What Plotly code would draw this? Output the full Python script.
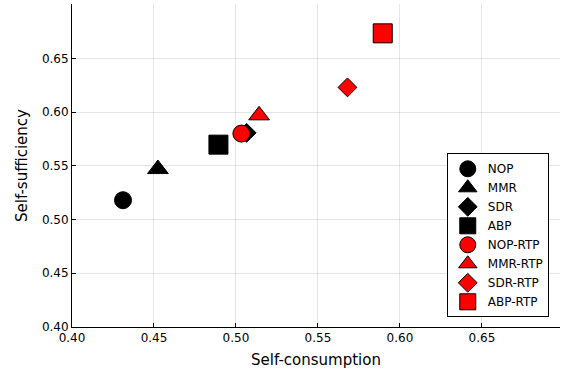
import plotly.graph_objects as go

names = ["NOP", "MMR", "SDR", "ABP", "NOP-RTP", "MMR-RTP", "SDR-RTP", "ABP-RTP"]
self_consumption = [0.4311, 0.4524, 0.5065, 0.4893, 0.5033, 0.5141, 0.568, 0.5895]
self_sufficiency = [0.518, 0.547, 0.5807, 0.5697, 0.580, 0.597, 0.623, 0.6733]
symbols = ["circle", "triangle-up", "diamond", "square", "circle", "triangle-up", "diamond", "square"]
colors = ["black", "black", "black", "black", "red", "red", "red", "red"]
sizes = [17, 18, 14.5, 19, 17, 18, 14.5, 19]
ticks = [0.40, 0.45, 0.50, 0.55, 0.60, 0.65]

fig = go.Figure()
for n, x, y, s, c, sz in zip(names, self_consumption, self_sufficiency, symbols, colors, sizes):
    fig.add_trace(go.Scatter(
        x=[x], y=[y], mode="markers", name=n,
        marker=dict(symbol=s, color=c, size=sz, line=dict(color="black", width=1)),
    ))

font = "DejaVu Sans"
axis_common = dict(
    showline=True, linecolor="black", linewidth=1, mirror=False,
    ticks="inside", ticklen=4, tickcolor="black",
    showgrid=True, gridcolor="rgba(0,0,0,0.1)", gridwidth=1,
    zeroline=False, tickformat=".2f", tickvals=ticks,
    tickfont=dict(family=font, size=12, color="black"),
)
fig.update_layout(
    width=561, height=378,
    margin=dict(l=72, r=1, t=4, b=51),
    paper_bgcolor="white", plot_bgcolor="white",
    font=dict(family=font, color="black"),
    xaxis=dict(range=[0.40, 0.6976], title=dict(text="Self-consumption", font=dict(size=15), standoff=10), **axis_common),
    yaxis=dict(range=[0.40, 0.7006], title=dict(text="Self-sufficiency", font=dict(size=15), standoff=10), **axis_common),
    legend=dict(x=0.977, y=0.03, xanchor="right", yanchor="bottom",
                bordercolor="black", borderwidth=1, bgcolor="white",
                font=dict(size=12, family=font), tracegroupgap=0, itemsizing="trace"),
)
fig.write_html("out.html")
